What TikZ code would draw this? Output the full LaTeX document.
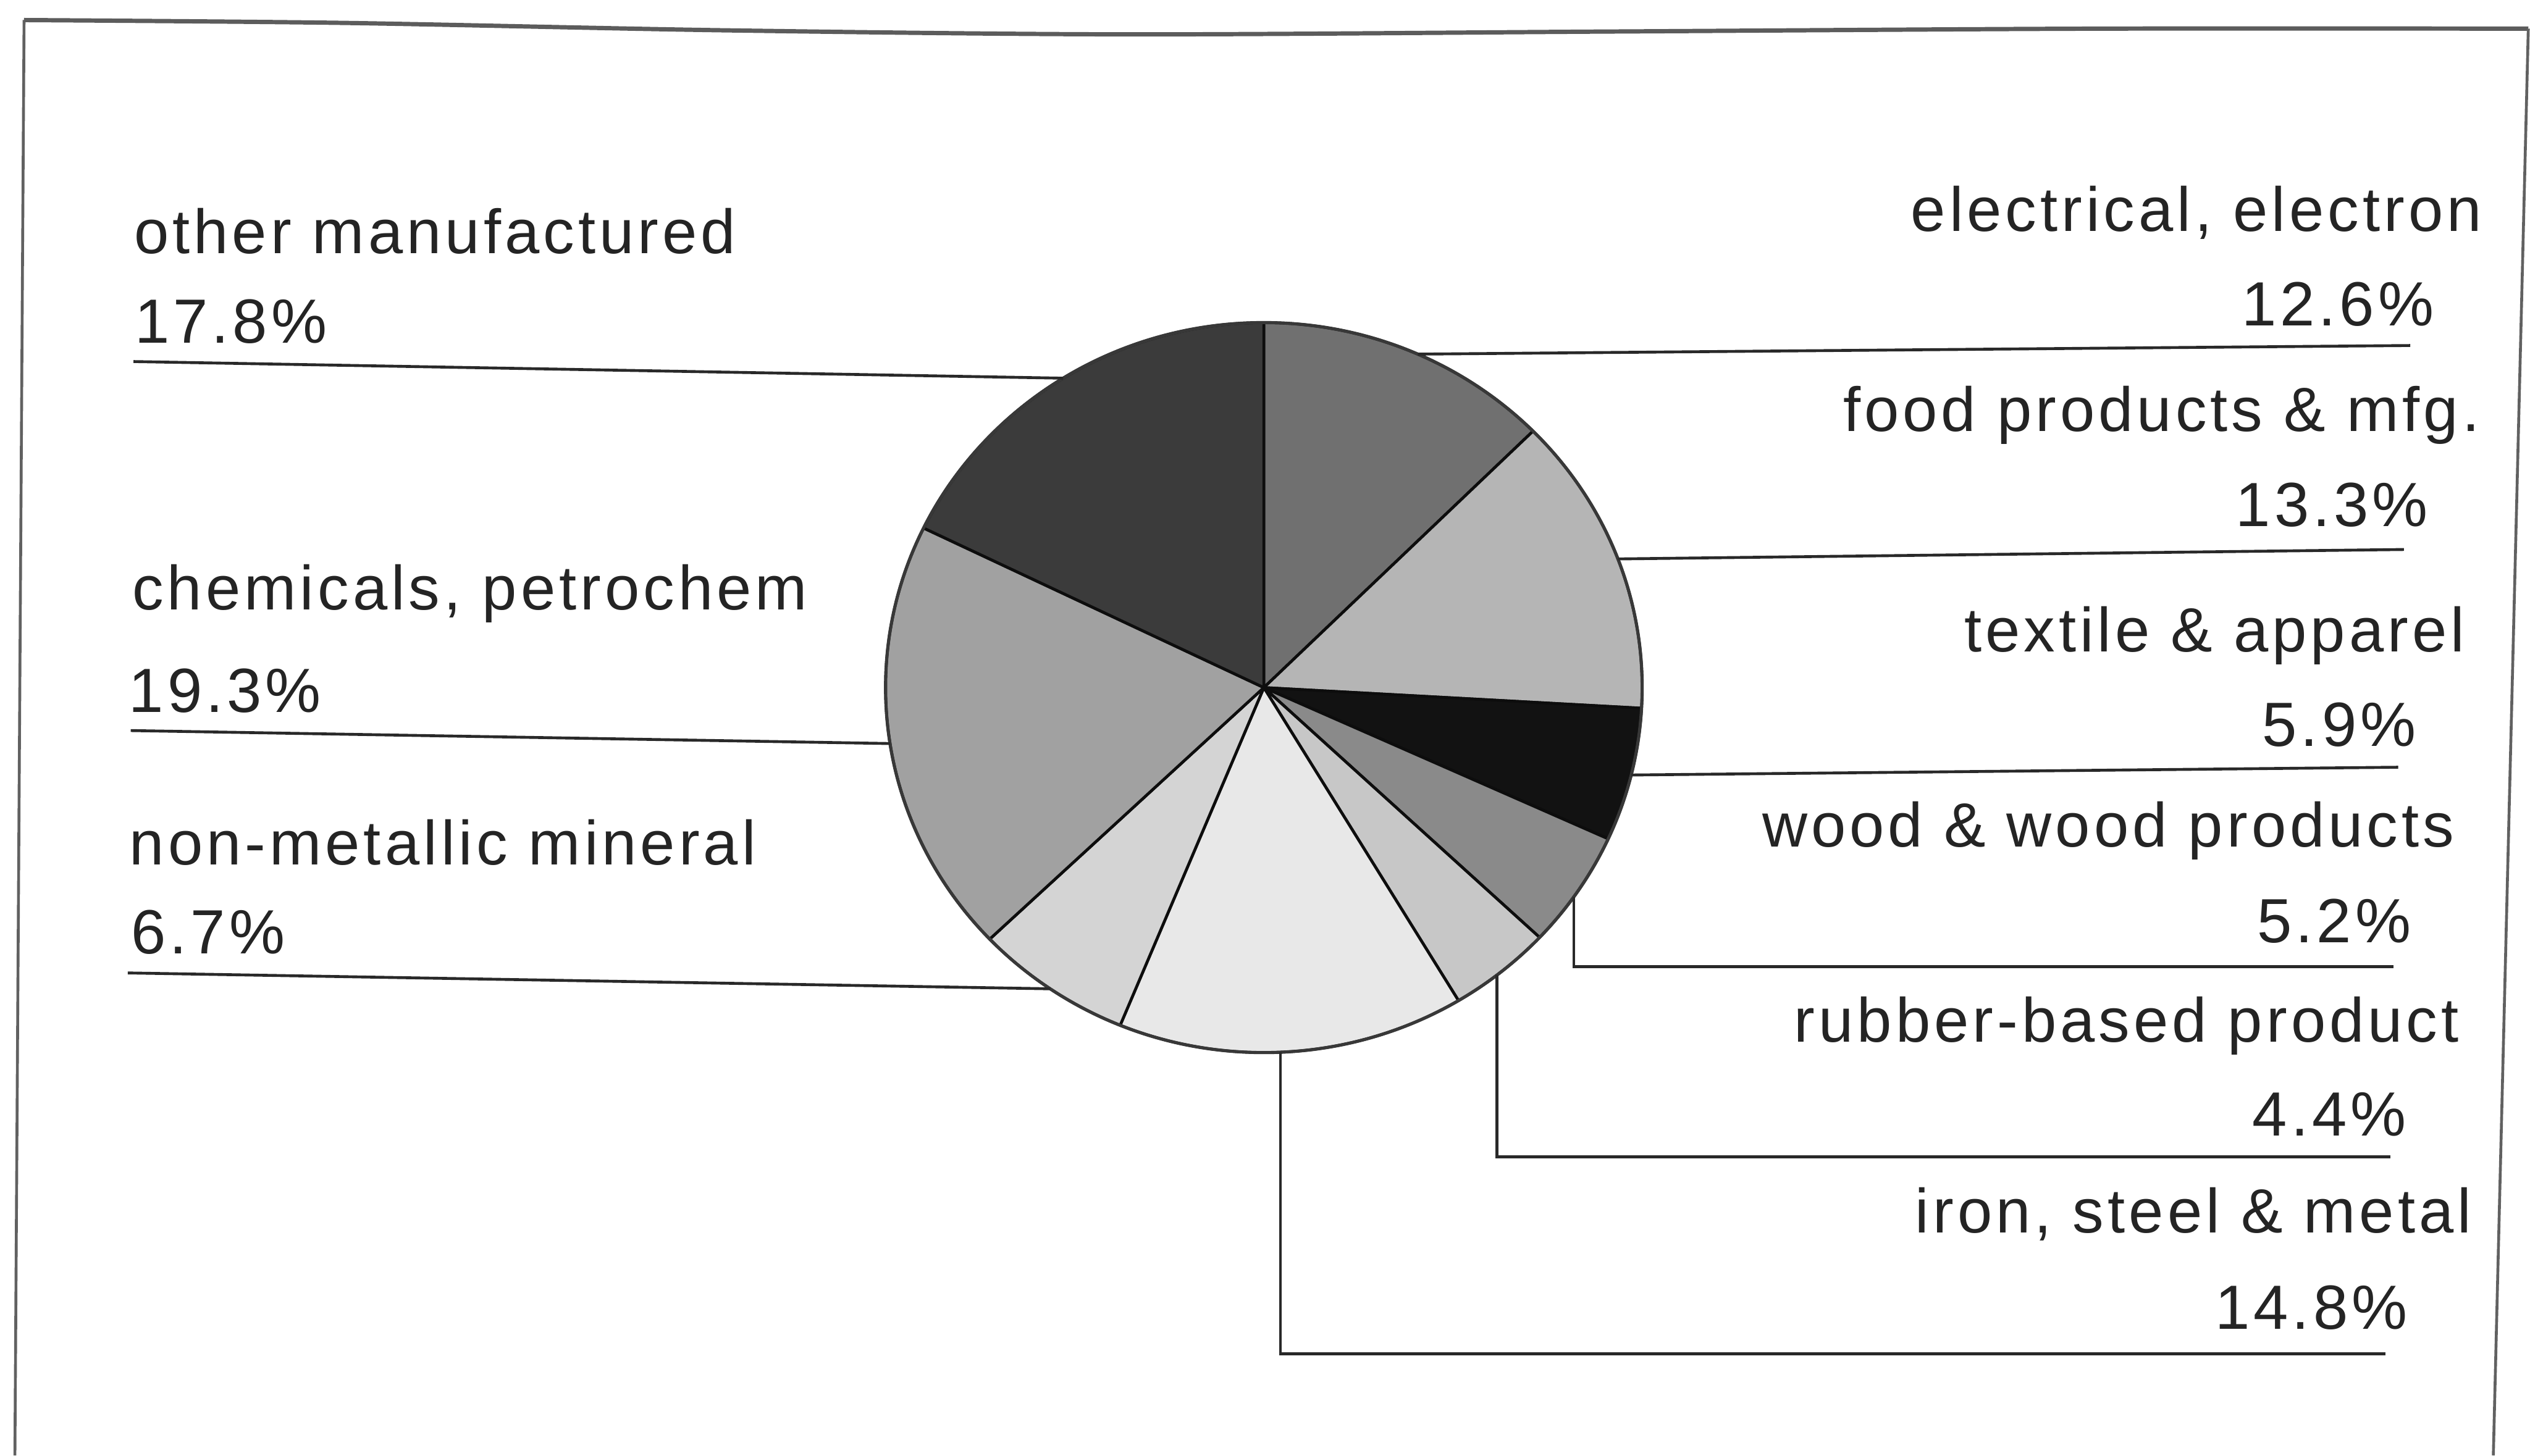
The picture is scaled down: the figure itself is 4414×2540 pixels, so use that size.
\documentclass[tikz,border=0pt]{standalone}
\usepackage{fontspec}
\setmainfont{Liberation Sans}
\newfontfamily\labelfont[LetterSpace=6.0]{Liberation Sans}

% slice shades
\definecolor{sElec}{gray}{0.44}
\definecolor{sFood}{gray}{0.71}
\definecolor{sTex}{gray}{0.07}
\definecolor{sWood}{gray}{0.54}
\definecolor{sRub}{gray}{0.78}
\definecolor{sIron}{gray}{0.91}
\definecolor{sNon}{gray}{0.83}
\definecolor{sChem}{gray}{0.63}
\definecolor{sOther}{gray}{0.23}

\begin{document}
\begin{tikzpicture}[x=0.1pt,y=0.1pt,
  lbl/.style={inner sep=0pt, outer sep=0pt, text=black!86,
    font=\labelfont\fontsize{10.9pt}{13pt}\selectfont},
  lblL/.style={lbl, anchor=base west},
  lblR/.style={lbl, anchor=base east},
  leader/.style={draw=black!84, line width=0.5pt},
  slice/.style={draw=black!95, line width=0.5pt, line join=round},
  rim/.style={draw=black!78, line width=0.55pt},
  frameline/.style={draw=black!62, line width=0.5pt},
  frametop/.style={draw=black!64, line width=0.75pt}]

\useasboundingbox (0,0) rectangle (4414,2540);
\fill[white] (0,0) rectangle (4414,2540);

% outer frame
\draw[frameline] (26,0) -- (42,2505);
\draw[frametop] plot[smooth] coordinates {(42,2505) (600,2500) (1270,2487) (1970,2480) (2815,2485) (3660,2490) (4411,2490)};
\draw[frameline] (4411,2490) -- (4350,0);

% pie
\coordinate (c) at (2205,1340);
\def\pie#1#2#3{%
  \filldraw[slice, fill=#3] (c) -- ++(#1:660 and 637)
    arc[start angle=#1, end angle=#2, x radius=660, y radius=637] -- cycle;}
\pie{90}{44.64}{sElec}
\pie{44.64}{-3.24}{sFood}
\pie{-3.24}{-24.48}{sTex}
\pie{-24.48}{-43.2}{sWood}
\pie{-43.2}{-59.04}{sRub}
\pie{-59.04}{-112.32}{sIron}
\pie{-112.32}{-136.44}{sNon}
\pie{-136.44}{-205.92}{sChem}
\pie{-205.92}{-270}{sOther}
\draw[rim] (c) ellipse[x radius=660, y radius=637];

% rim points where the leaders start
\path (c) ++(66:660 and 637) coordinate (pElec);
\path (c) ++(20.64:660 and 637) coordinate (pFood);
\path (c) ++(-13.86:660 and 637) coordinate (pTex);
\path (c) ++(-35:660 and 637) coordinate (pWood);
\path (c) ++(-52:660 and 637) coordinate (pRub);
\path (c) ++(-87.5:660 and 637) coordinate (pIron);
\path (c) ++(-124.38:660 and 637) coordinate (pNon);
\path (c) ++(188.82:660 and 637) coordinate (pChem);
\path (c) ++(122.04:660 and 637) coordinate (pOther);

% free ends of the leaders
\coordinate (eElec) at (4205,1937);
\coordinate (eFood) at (4194,1581);
\coordinate (eTex) at (4184,1201);
\coordinate (eWood) at (4176,853);
\coordinate (eRub) at (4170,521);
\coordinate (eIron) at (4162,177);
\coordinate (eOther) at (233,1909);
\coordinate (eChem) at (228,1265);
\coordinate (eNon) at (223,842);

% leaders
\draw[leader] (pElec) -- (eElec);
\draw[leader] (pFood) -- (eFood);
\draw[leader] (pTex) -- (eTex);
\draw[leader] (pWood) |- (eWood);
\draw[leader] (pRub) |- (eRub);
\draw[leader] (pIron) |- (eIron);
\draw[leader] (eOther) -- (pOther);
\draw[leader] (eChem) -- (pChem);
\draw[leader] (eNon) -- (pNon);

% left labels
\node[lblL] (tOther) at (234,2098) {other manufactured};
\node[lblL] (vOther) at (235,1941) {17.8\%};
\node[lblL] (tChem) at (231,1476) {chemicals, petrochem};
\node[lblL] (vChem) at (225,1297) {19.3\%};
\node[lblL] (tNon) at (226,1031) {non-metallic mineral};
\node[lblL] (vNon) at (229,876) {6.7\%};

% right labels
\node[lblR] (tElec) at (4330,2136) {electrical, electron};
\node[lblR] (vElec) at (4246,1972) {12.6\%};
\node[lblR] (tFood) at (4326,1787) {food products \& mfg.};
\node[lblR] (vFood) at (4236,1621) {13.3\%};
\node[lblR] (tTex) at (4300,1403) {textile \& apparel};
\node[lblR] (vTex) at (4215,1238) {5.9\%};
\node[lblR] (tWood) at (4282,1062) {wood \& wood products};
\node[lblR] (vWood) at (4206,895) {5.2\%};
\node[lblR] (tRub) at (4290,722) {rubber-based product};
\node[lblR] (vRub) at (4198,558) {4.4\%};
\node[lblR] (tIron) at (4312,389) {iron, steel \& metal};
\node[lblR] (vIron) at (4200,220) {14.8\%};
\end{tikzpicture}
\end{document}
